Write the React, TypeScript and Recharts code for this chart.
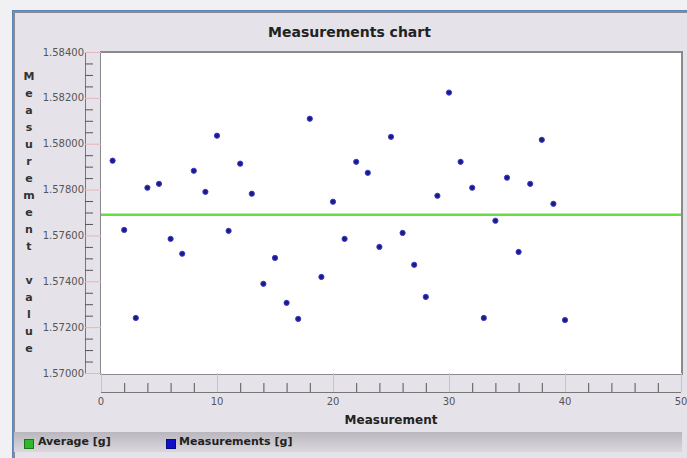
import React from "react";
import { ScatterChart, Scatter, XAxis, YAxis, ReferenceLine } from "recharts";

const measurementIds = [
  1, 2, 3, 4, 5, 6, 7, 8, 9, 10, 11, 12, 13, 14, 15, 16, 17, 18, 19, 20,
  21, 22, 23, 24, 25, 26, 27, 28, 29, 30, 31, 32, 33, 34, 35, 36, 37, 38, 39, 40,
];
const measurementValues = [
  1.57926, 1.57624, 1.5724, 1.57808, 1.57825, 1.57585, 1.5752, 1.57882, 1.5779, 1.58035,
  1.5762, 1.57913, 1.57782, 1.57389, 1.57502, 1.57306, 1.57236, 1.58109, 1.57419, 1.57747,
  1.57585, 1.57921, 1.57873, 1.5755, 1.5803, 1.57611, 1.57472, 1.57332, 1.57773, 1.58223,
  1.57921, 1.57808, 1.5724, 1.57664, 1.57852, 1.57528, 1.57825, 1.58017, 1.57738, 1.57231,
];
const averageValue = 1.5769;

const yMajorTicks = [1.57, 1.572, 1.574, 1.576, 1.578, 1.58, 1.582, 1.584];
const yTickLabels = ["1.57000", "1.57200", "1.57400", "1.57600", "1.57800", "1.58000", "1.58200", "1.58400"];
const yAllTicks = [
  1.57, 1.5705, 1.571, 1.5715, 1.572, 1.5725, 1.573, 1.5735, 1.574, 1.5745,
  1.575, 1.5755, 1.576, 1.5765, 1.577, 1.5775, 1.578, 1.5785, 1.579, 1.5795,
  1.58, 1.5805, 1.581, 1.5815, 1.582, 1.5825, 1.583, 1.5835, 1.584,
];
const xMajorTicks = [0, 10, 20, 30, 40, 50];
const xTickLabels = ["0", "10", "20", "30", "40", "50"];
const xAllTicks = [
  0, 2, 4, 6, 8, 10, 12, 14, 16, 18, 20, 22, 24, 26, 28, 30, 32, 34, 36, 38, 40,
  42, 44, 46, 48, 50,
];

const points = measurementIds.map((id, i) => ({ x: id, y: measurementValues[i] }));

const FONT = "'DejaVu Sans', Verdana, sans-serif";
const PINK = "#e4b4c0";

const YTick = ({ x, y, payload }: any) => {
  const i = yMajorTicks.findIndex((v) => Math.abs(v - payload.value) < 1e-7);
  if (i >= 0) {
    return (
      <g>
        <line x1={x - 16} x2={x} y1={y + 0.5} y2={y + 0.5} stroke={PINK} />
        <text x={x - 17} y={y} dy={3.5} textAnchor="end" fontSize={10} fill="#555" fontFamily={FONT}>
          {yTickLabels[i]}
        </text>
      </g>
    );
  }
  return <line x1={x - 16} x2={x - 8} y1={y + 0.5} y2={y + 0.5} stroke="#555" />;
};

const XTick = ({ x, y, payload }: any) => {
  const i = xMajorTicks.indexOf(payload.value);
  if (i >= 0) {
    return (
      <g>
        <line x1={x + 0.5} x2={x + 0.5} y1={y} y2={y + 19} stroke={PINK} />
        <text x={x} y={y + 28} dy={3.5} textAnchor="middle" fontSize={10} fill="#555" fontFamily={FONT}>
          {xTickLabels[i]}
        </text>
      </g>
    );
  }
  return <line x1={x + 0.5} x2={x + 0.5} y1={y + 10} y2={y + 19} stroke="#555" />;
};

const Dot = ({ cx, cy }: any) => (
  <circle cx={cx} cy={cy} r={2.6} fill="#1c1c80" stroke="#3a3ad0" strokeWidth={1} />
);

export default function App() {
  const yLabel = "Measurement value".split("");
  return (
    <div style={{ position: "absolute", left: 0, top: 0, width: 687, height: 458, background: "#f1f0f3", overflow: "hidden", fontFamily: FONT }}>
      {/* panel */}
      <div style={{ position: "absolute", left: 12, top: 10, right: -4, bottom: -4, background: "#e5e3e9", borderTop: "1px solid #5a86c0", borderLeft: "1px solid #5a86c0", boxShadow: "inset 2px 2px 0 #8a8a8e" }} />
      {/* plot background */}
      <div style={{ position: "absolute", left: 100, top: 51, width: 580, height: 321, background: "#fff", border: "1px solid #8a8a8a", borderTopWidth: 2, borderRightWidth: 2 }} />
      {/* axis strip borders */}
      <div style={{ position: "absolute", left: 85, top: 52, width: 1, height: 321, background: "#777" }} />
      <div style={{ position: "absolute", left: 101, top: 392, width: 580, height: 1, background: "#777" }} />
      <div style={{ position: "absolute", left: 12, width: 675, top: 24, textAlign: "center", fontSize: 14, fontWeight: "bold", color: "#222" }}>
        Measurements chart
      </div>
      <div style={{ position: "absolute", left: 21, top: 68, width: 16, textAlign: "center", fontSize: 11, fontWeight: "bold", color: "#333" }}>
        {yLabel.map((c, i) => (
          <div key={i} style={{ height: 17, lineHeight: "17px" }}>{c === " " ? "\u00a0" : c}</div>
        ))}
      </div>
      <div style={{ position: "absolute", left: 101, width: 580, top: 413, textAlign: "center", fontSize: 12, fontWeight: "bold", color: "#222" }}>
        Measurement
      </div>
      {/* legend */}
      <div style={{ position: "absolute", left: 14, top: 432, width: 668, height: 20, background: "linear-gradient(#b9b7bd, #dad8dd)" }}>
        <div style={{ position: "absolute", left: 10, top: 7, width: 8, height: 8, background: "#2eb82e", border: "1px solid #1a7a1a" }} />
        <div style={{ position: "absolute", left: 24, top: 3, fontSize: 11, fontWeight: "bold", color: "#222" }}>Average [g]</div>
        <div style={{ position: "absolute", left: 152, top: 7, width: 8, height: 8, background: "#1010c8", border: "1px solid #0a0a80" }} />
        <div style={{ position: "absolute", left: 165, top: 3, fontSize: 11, fontWeight: "bold", color: "#222" }}>Measurements [g]</div>
      </div>
      <div style={{ position: "absolute", left: 0, top: 0 }}>
        <ScatterChart width={687} height={458} margin={{ top: 52, right: 6, bottom: 65, left: 61 }}>
          <XAxis
            type="number"
            dataKey="x"
            domain={[0, 50]}
            ticks={xAllTicks}
            interval={0}
            height={20}
            tickSize={0}
            tickMargin={0}
            axisLine={false}
            tickLine={false}
            tick={<XTick />}
          />
          <YAxis
            type="number"
            dataKey="y"
            domain={[1.57, 1.584]}
            ticks={yAllTicks}
            interval={0}
            width={40}
            tickSize={0}
            tickMargin={0}
            axisLine={false}
            tickLine={false}
            tick={<YTick />}
          />
          <ReferenceLine y={averageValue} stroke="#66dd44" strokeWidth={2.5} ifOverflow="extendDomain" />
          <Scatter data={points} fill="#1c1c80" shape={<Dot />} isAnimationActive={false} />
        </ScatterChart>
      </div>
    </div>
  );
}
